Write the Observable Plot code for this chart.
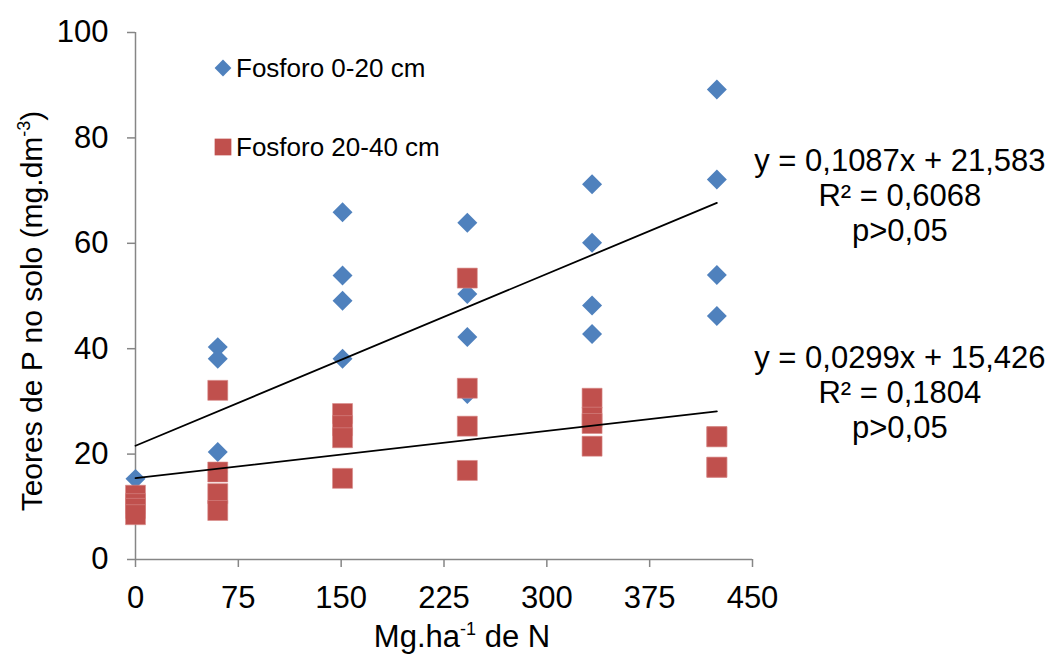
<!DOCTYPE html>
<html><head><meta charset="utf-8">
<script src="https://cdn.jsdelivr.net/npm/d3@7"></script>
<script src="https://cdn.jsdelivr.net/npm/@observablehq/plot@0.6"></script>
<style>body{margin:0;background:#fff} #chart{width:1053px;height:655px}</style>
</head><body><div id="chart"></div>
<script>
// ---- data ----
const xTicks = [0, 75, 150, 225, 300, 375, 450];
const yTicks = [0, 20, 40, 60, 80, 100];

const p020_x = [0,0,0,0, 60,60,60,60, 151,151,151,151, 242,242,242,242, 333,333,333,333, 424,424,424,424];
const p020_y = [15.3,12.2,10.4,8.7, 40.3,38.1,20.4,16.6, 65.9,53.9,49.1,38.1, 63.9,50.4,42.2,31.4, 71.2,60.1,48.2,42.8, 89.2,72.1,54.0,46.2];

const p2040_x = [0,0,0,0, 60,60,60,60, 151,151,151,151, 242,242,242,242, 333,333,333,333, 424,424,424,424];
const p2040_y = [12.2,10.6,9.7,8.5, 32.1,16.6,12.5,9.3, 27.7,25.4,23.1,15.4, 53.4,32.5,25.3,16.9, 30.6,27.0,25.8,21.5, 23.3,23.3,17.5,17.5];

const seriesNames = ["Fosforo 0-20 cm", "Fosforo 20-40 cm"];
const fitSlope = [0.1087, 0.0299];
const fitIntercept = [21.583, 15.426];
const fitSlopeText = ["0,1087", "0,0299"];
const fitInterceptText = ["21,583", "15,426"];
const fitR2Text = ["0,6068", "0,1804"];
const fitPText = ["p>0,05", "p>0,05"];
const fitRange = [0, 424];

const blue = "#4F81BD", red = "#C0504D", axisGray = "#868686";

// ---- tables built from the arrays ----
const blueData = p020_x.map((x, i) => ({x, y: p020_y[i]}));
const redData = p2040_x.map((x, i) => ({x, y: p2040_y[i]}));
const fitLines = [];
const fitLabels = [];
seriesNames.forEach((s, k) => {
  fitRange.forEach(x => fitLines.push({series: s, x, y: fitSlope[k] * x + fitIntercept[k]}));
  const xe = fitRange[1];
  fitLabels.push({k, x: xe, y: fitSlope[k] * xe + fitIntercept[k],
    text: `y = ${fitSlopeText[k]}x + ${fitInterceptText[k]}\nR² = ${fitR2Text[k]}\n${fitPText[k]}`});
});

const font = "'Liberation Sans', Arial, sans-serif";

const plot = Plot.plot({
  width: 1053, height: 655,
  marginLeft: 135, marginRight: 301, marginTop: 32, marginBottom: 96,
  x: {domain: [0, 450]},
  y: {domain: [0, 100]},
  style: {fontFamily: font, background: "white", overflow: "visible", color: "black"},
  marks: [
    Plot.axisX({ticks: xTicks, tickSize: 8, tickPadding: 18, stroke: axisGray, strokeWidth: 1.5, fill: "black", fontSize: 31, label: null}),
    Plot.axisY({ticks: yTicks, tickSize: 8, tickPadding: 19, stroke: axisGray, strokeWidth: 1.5, fill: "black", fontSize: 31, label: null}),
    Plot.ruleY([0], {stroke: axisGray, strokeWidth: 1.5}),
    Plot.ruleX([0], {stroke: axisGray, strokeWidth: 1.5}),
    Plot.dot(blueData, {x: "x", y: "y", symbol: "diamond2", r: 9, fill: blue, stroke: null}),
    Plot.dot(redData, {x: "x", y: "y", symbol: "square", r: 11.28, fill: red, stroke: "#d98b89", strokeWidth: 0.6}),
    Plot.line(fitLines, {x: "x", y: "y", z: "series", stroke: "black", strokeWidth: 1.8}),
    Plot.text(fitLabels.filter(d => d.k === 0), {x: "x", y: "y", text: "text", dx: 183, dy: -8, fontSize: 31, lineHeight: 1.13, textAnchor: "middle", fill: "black"}),
    Plot.text(fitLabels.filter(d => d.k === 1), {x: "x", y: "y", text: "text", dx: 183, dy: -20, fontSize: 31, lineHeight: 1.13, textAnchor: "middle", fill: "black"})
  ]
});

document.getElementById("chart").appendChild(plot);

// ---- legend and axis titles (with superscripts) ----
const svg = d3.select(plot);
const leg = svg.append("g").attr("font-family", font).attr("font-size", 26).attr("text-anchor", "start");
const legendY = [68, 147];
const legendSym = [d3.symbol(d3.symbolDiamond2, 180)(), d3.symbol(d3.symbolSquare, 280)()];
const legendCol = [blue, red];
seriesNames.forEach((s, k) => {
  leg.append("path").attr("d", legendSym[k]).attr("fill", legendCol[k]).attr("transform", `translate(223,${legendY[k]})`);
  leg.append("text").attr("x", 236).attr("y", legendY[k]).attr("dy", "0.35em").attr("fill", "black").attr("text-anchor", "start").text(s);
});

const yt = svg.append("text").attr("font-family", font).attr("font-size", 30).attr("fill", "black")
  .attr("text-anchor", "middle").attr("transform", "translate(42,311) rotate(-90)");
yt.append("tspan").text("Teores de P no solo (mg.dm");
yt.append("tspan").attr("font-size", 18).attr("dy", -12).text("-3");
yt.append("tspan").attr("dy", 12).text(")");

const xt = svg.append("text").attr("font-family", font).attr("font-size", 31).attr("fill", "black")
  .attr("text-anchor", "middle").attr("x", 462).attr("y", 647);
xt.append("tspan").text("Mg.ha");
xt.append("tspan").attr("font-size", 18).attr("dy", -12).text("-1");
xt.append("tspan").attr("dy", 12).text(" de N");
</script>
</body></html>
